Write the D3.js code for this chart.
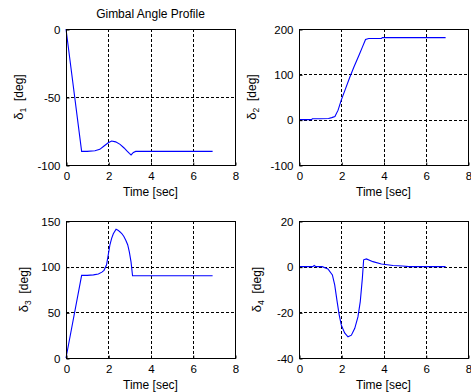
<!DOCTYPE html>
<html>
<head>
<meta charset="utf-8">
<script src="https://d3js.org/d3.v7.min.js"></script>
<style>
  html, body { margin: 0; padding: 0; background: #fff; }
  svg { display: block; }
  text { font-family: "Liberation Sans", Arial, sans-serif; fill: #000; }
</style>
</head>
<body>
<svg id="chart" width="471" height="392"></svg>
<script>
// ---- data ----
const xTicks = [0, 2, 4, 6, 8];

const t1 = [0, 0.74, 1.0, 1.37, 1.6, 1.8, 2.0, 2.16, 2.35, 2.56, 2.75, 2.87, 3.0, 3.08, 3.19, 3.3, 4, 5, 6, 6.94];
const d1 = [0, -90, -90, -89.5, -88.5, -86, -83.6, -82.4, -83, -84.8, -87.5, -89.5, -91.5, -92.6, -90.8, -90, -90, -90, -90, -90];
const y1Ticks = [-100, -50, 0];

const t2 = [0, 0.6, 0.63, 1.0, 1.4, 1.55, 1.7, 1.85, 2.0, 2.2, 2.4, 2.6, 2.85, 3.0, 3.15, 3.3, 3.6, 3.9, 3.95, 5, 6, 6.94];
const d2 = [0, 0, 2, 2, 2.5, 4.5, 7, 21, 43, 68, 93, 116, 143, 160, 177, 179, 179, 179, 181, 181, 181, 181];
const y2Ticks = [-100, 0, 100, 200];

const t3 = [0, 0.74, 1.0, 1.3, 1.53, 1.7, 1.8, 1.92, 2.0, 2.08, 2.16, 2.24, 2.37, 2.46, 2.56, 2.65, 2.74, 2.83, 2.92, 3.0, 3.08, 3.15, 4, 5, 6, 6.94];
const d3v = [0, 90.5, 90.5, 91, 92, 94, 96, 102, 113, 124, 131, 136, 141, 140, 138, 136, 133, 129, 124, 116, 105, 90, 90, 90, 90, 90];
const y3Ticks = [0, 50, 100, 150];

const t4 = [0, 0.65, 0.72, 0.8, 1.1, 1.37, 1.58, 1.69, 1.8, 1.9, 2.0, 2.16, 2.32, 2.48, 2.64, 2.79, 2.9, 3.0, 3.06, 3.19, 3.5, 3.9, 4.45, 4.9, 5.2, 6, 6.94];
const d4 = [0, 0, 0.5, 0, 0, -1, -3.6, -8, -15, -21, -25.5, -29, -30.7, -30, -27, -22, -15.3, -5, 3, 3.4, 2.2, 1.2, 0.5, 0.3, 0, 0, 0];
const y4Ticks = [-40, -20, 0, 20];

const panels = [
  { t: t1, d: d1, yTicks: y1Ticks, sub: "1", x0: 66, x1: 235, y0: 29, y1: 165, labOff: 43, title: "Gimbal Angle Profile" },
  { t: t2, d: d2, yTicks: y2Ticks, sub: "2", x0: 299, x1: 468, y0: 29, y1: 165, labOff: 43 },
  { t: t3, d: d3v, yTicks: y3Ticks, sub: "3", x0: 66, x1: 235, y0: 221, y1: 358, labOff: 38 },
  { t: t4, d: d4, yTicks: y4Ticks, sub: "4", x0: 299, x1: 468, y0: 221, y1: 358, labOff: 38 }
];

const svg = d3.select("#chart");
const fmt = d => String(d);

panels.forEach(p => {
  const x = d3.scaleLinear().domain([xTicks[0], xTicks[xTicks.length - 1]]).range([p.x0, p.x1]);
  const y = d3.scaleLinear().domain([p.yTicks[0], p.yTicks[p.yTicks.length - 1]]).range([p.y1, p.y0]);
  const g = svg.append("g");

  // grid
  g.selectAll(".vg").data(xTicks.slice(1, -1)).enter().append("line")
    .attr("x1", d => Math.round(x(d)) + 0.5).attr("x2", d => Math.round(x(d)) + 0.5)
    .attr("y1", p.y0).attr("y2", p.y1)
    .attr("stroke", "#000").attr("stroke-width", 1).attr("stroke-dasharray", "3,2");
  g.selectAll(".hg").data(p.yTicks.slice(1, -1)).enter().append("line")
    .attr("y1", d => Math.round(y(d)) + 0.5).attr("y2", d => Math.round(y(d)) + 0.5)
    .attr("x1", p.x0).attr("x2", p.x1)
    .attr("stroke", "#000").attr("stroke-width", 1).attr("stroke-dasharray", "3,2");

  // data line
  const line = d3.line().x((d, i) => x(p.t[i])).y(d => y(d));
  g.append("path").datum(p.d)
    .attr("d", line)
    .attr("fill", "none").attr("stroke", "#0000ff").attr("stroke-width", 1.1);

  // box
  g.append("rect")
    .attr("x", p.x0 + 0.5).attr("y", p.y0 + 0.5)
    .attr("width", p.x1 - p.x0).attr("height", p.y1 - p.y0)
    .attr("fill", "none").attr("stroke", "#000").attr("stroke-width", 1);

  // axes (ticks inward, labels)
  const xAxis = d3.axisBottom(x).tickValues(xTicks).tickSize(-3).tickPadding(6).tickFormat(fmt);
  const gx = g.append("g").attr("transform", `translate(0.5,${p.y1 + 0.5})`).call(xAxis);
  const yAxis = d3.axisLeft(y).tickValues(p.yTicks).tickSize(-3).tickPadding(6).tickFormat(fmt);
  const gy = g.append("g").attr("transform", `translate(${p.x0 + 0.5},0.5)`).call(yAxis);
  [gx, gy].forEach(a => {
    a.select(".domain").remove();
    a.selectAll("text").attr("font-size", 11.5).attr("font-family", '"Liberation Sans", Arial, sans-serif').attr("fill", "#000");
    a.selectAll("line").attr("stroke", "#000");
  });
  gx.selectAll("text").attr("dy", "0.78em").attr("y", 6);

  // x label
  g.append("text").attr("x", (p.x0 + p.x1) / 2).attr("y", p.y1 + 31)
    .attr("text-anchor", "middle").attr("font-size", 12).text("Time [sec]");

  // y label
  const yl = g.append("text")
    .attr("transform", `translate(${p.x0 - p.labOff},${(p.y0 + p.y1) / 2}) rotate(-90)`)
    .attr("text-anchor", "middle").attr("font-size", 12);
  yl.append("tspan").attr("font-size", 13).text("δ");
  yl.append("tspan").attr("font-size", 8.5).attr("dy", 3).text(p.sub);
  yl.append("tspan").attr("dy", -3).text("\u00a0\u00a0[deg]");

  if (p.title) {
    g.append("text").attr("x", (p.x0 + p.x1) / 2).attr("y", 18)
      .attr("text-anchor", "middle").attr("font-size", 12).text(p.title);
  }
});
</script>
</body>
</html>
